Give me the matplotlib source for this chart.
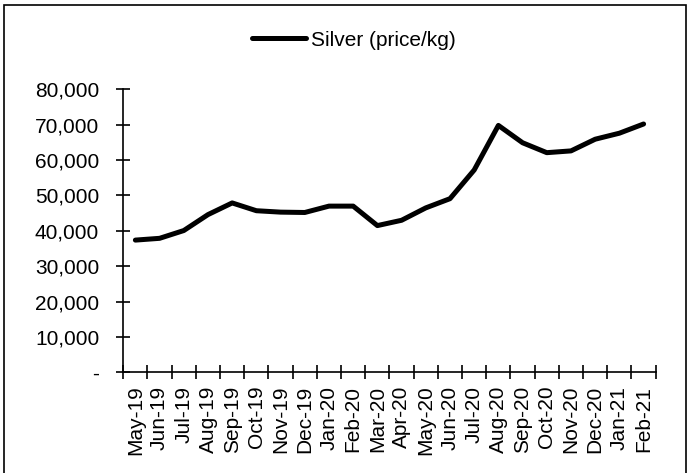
import numpy as np
import matplotlib.pyplot as plt
from matplotlib.patches import Rectangle
from matplotlib.ticker import FuncFormatter

plt.rcParams['font.family'] = ['Liberation Sans', 'DejaVu Sans']

months = ['May-19', 'Jun-19', 'Jul-19', 'Aug-19', 'Sep-19', 'Oct-19', 'Nov-19',
          'Dec-19', 'Jan-20', 'Feb-20', 'Mar-20', 'Apr-20', 'May-20', 'Jun-20',
          'Jul-20', 'Aug-20', 'Sep-20', 'Oct-20', 'Nov-20', 'Dec-20', 'Jan-21',
          'Feb-21']
silver = [37400, 37900, 40100, 44600, 47900, 45700, 45300, 45200, 47000, 47000,
          41500, 43000, 46500, 49100, 57200, 69800, 64900, 62100, 62600, 65900,
          67600, 70200]
yticks = [0, 10000, 20000, 30000, 40000, 50000, 60000, 70000, 80000]

fig = plt.figure(figsize=(6.91, 4.73), dpi=100)
ax = fig.add_axes([0.1784, 0.2125, 0.9489 - 0.1784, 0.8112 - 0.2125])

x = np.arange(len(months))
ax.plot(x, silver, color='black', lw=3.6, solid_joinstyle='round',
        solid_capstyle='round', label='Silver (price/kg)')

ax.set_xlim(-0.5, len(months) - 0.5)
ax.set_ylim(0, 80000)

# category axis: ticks between categories, labels in the middle
ax.set_xticks(np.arange(len(months) + 1) - 0.5)
ax.set_xticklabels([])
ax.set_xticks(x, minor=True)
ax.set_xticklabels(months, minor=True, rotation=90, fontsize=15)
ax.tick_params(axis='x', which='major', direction='inout', length=10, width=1.2)
ax.tick_params(axis='x', which='minor', length=0, pad=9.5)

ax.set_yticks(yticks)
ax.yaxis.set_major_formatter(FuncFormatter(lambda v, p: '-' if v == 0 else f'{int(v):,}'))
ax.tick_params(axis='y', direction='inout', length=10, width=1.2, pad=12.3, labelsize=15)

for s in ['top', 'right']:
    ax.spines[s].set_visible(False)
for s in ['left', 'bottom']:
    ax.spines[s].set_linewidth(1.2)

fig.legend(loc='center', bbox_to_anchor=(354 / 691, 1 - 40 / 473), frameon=False,
           fontsize=15, handlelength=2.6, handletextpad=0.25)

# outer border like the Excel chart area
fig.patches.append(Rectangle((4 / 691, -0.05), 682 / 691, 1.05 - 4.7 / 473,
                             transform=fig.transFigure, fill=False,
                             edgecolor='black', lw=1.2))

plt.savefig('out.png', dpi=100)
